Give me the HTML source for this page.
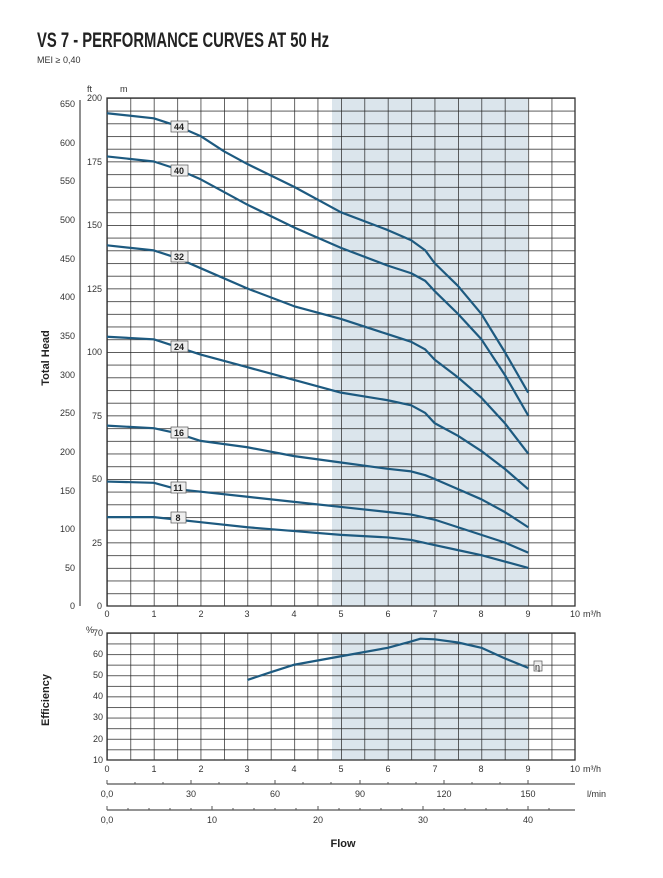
<!DOCTYPE html>
<html><head><meta charset="utf-8"><style>
body{margin:0;background:#fff;}
svg{display:block;font-family:"Liberation Sans",sans-serif;}
.t{font-size:9px;fill:#333;}
</style></head><body>
<svg width="663" height="878" viewBox="0 0 663 878">
<defs>
<pattern id="g1" x="107" y="98" width="23.4" height="12.7" patternUnits="userSpaceOnUse">
<path d="M0 0V12.7M0 0H23.4" stroke="#222" stroke-width="1.4" fill="none"/></pattern>
<pattern id="g2" x="107" y="633" width="23.4" height="10.585" patternUnits="userSpaceOnUse">
<path d="M0 0V10.585M0 0H23.4" stroke="#222" stroke-width="1.4" fill="none"/></pattern>
</defs>
<text x="37" y="47" font-size="21" font-weight="bold" fill="#222" textLength="292" lengthAdjust="spacingAndGlyphs">VS 7 - PERFORMANCE CURVES AT 50 Hz</text>
<text x="37" y="63" font-size="9" fill="#333">MEI ≥ 0,40</text>

<rect x="332" y="98" width="196" height="508" fill="#dbe5ec"/>
<rect x="107" y="98" width="468" height="508" fill="url(#g1)"/>
<rect x="107" y="98" width="468" height="508" fill="none" stroke="#333" stroke-width="1.3"/>
<text class="t" x="87" y="92">ft</text><text class="t" x="120" y="92">m</text>
<g class="t" text-anchor="end">
<text x="102" y="101">200</text><text x="102" y="165">175</text><text x="102" y="228">150</text><text x="102" y="292">125</text><text x="102" y="355">100</text><text x="102" y="419">75</text><text x="102" y="482">50</text><text x="102" y="546">25</text><text x="102" y="609">0</text>
</g>
<line x1="80" y1="100" x2="80" y2="606" stroke="#555" stroke-width="1.3"/>
<g class="t" text-anchor="end">
<text x="75" y="107">650</text><text x="75" y="146">600</text><text x="75" y="184">550</text><text x="75" y="223">500</text><text x="75" y="262">450</text><text x="75" y="300">400</text><text x="75" y="339">350</text><text x="75" y="378">300</text><text x="75" y="416">250</text><text x="75" y="455">200</text><text x="75" y="494">150</text><text x="75" y="532">100</text><text x="75" y="571">50</text><text x="75" y="609">0</text>
</g>
<text x="49" y="358" font-size="11" font-weight="bold" fill="#222" transform="rotate(-90 49 358)" text-anchor="middle">Total Head</text>
<g class="t" text-anchor="middle">
<text x="107" y="617">0</text><text x="154" y="617">1</text><text x="201" y="617">2</text><text x="247" y="617">3</text><text x="294" y="617">4</text><text x="341" y="617">5</text><text x="388" y="617">6</text><text x="435" y="617">7</text><text x="481" y="617">8</text><text x="528" y="617">9</text><text x="575" y="617">10</text>
</g>
<text class="t" x="583" y="617">m³/h</text>

<g transform="translate(107,606) scale(46.8,-2.54)" fill="none" stroke="#1d5a80" stroke-width="2.2" stroke-linejoin="round">
<polyline vector-effect="non-scaling-stroke" points="0,194 1,192 1.5,189 2,185 2.5,179 3,174 4,165 5,155 6,148 6.5,144 6.8,140 7,135 7.5,126 8,115 8.5,100 9,84"/>
<polyline vector-effect="non-scaling-stroke" points="0,177 1,175 1.5,172 2,168 3,158 4,149 5,141 6,134 6.5,131 6.8,128 7,124 7.5,115 8,105 8.5,91 9,75"/>
<polyline vector-effect="non-scaling-stroke" points="0,142 1,140 1.5,137 2,133 3,125 4,118 5,113 6,107 6.5,104 6.8,101 7,97 7.5,90 8,82 8.5,72 9,60"/>
<polyline vector-effect="non-scaling-stroke" points="0,106 1,105 1.5,102 2,99 3,94 4,89 5,84 6,81 6.5,79 6.8,76 7,72 7.5,67 8,61 8.5,54 9,46"/>
<polyline vector-effect="non-scaling-stroke" points="0,71 1,70 1.5,68 2,65 3,62.5 4,59 5,56.5 6,54 6.5,53 6.8,51.5 7,50 7.5,46 8,42 8.5,37 9,31"/>
<polyline vector-effect="non-scaling-stroke" points="0,49 1,48.5 1.5,46 2,45 3,43 4,41 5,39 6,37 6.5,36 7,34 7.5,31 8,28 8.5,25 9,21"/>
<polyline vector-effect="non-scaling-stroke" points="0,35 1,35 1.5,34 2,33 3,31 4,29.5 5,28 6,27 6.5,26 7,24 7.5,22 8,20 8.5,17.5 9,15"/>
</g>
<g font-size="9" font-weight="bold" fill="#222" text-anchor="middle">
<rect x="171" y="121" width="17" height="11" fill="#eee" stroke="#555" stroke-width="0.7"/><text x="179" y="130">44</text>
<rect x="171" y="165" width="17" height="11" fill="#eee" stroke="#555" stroke-width="0.7"/><text x="179" y="174">40</text>
<rect x="171" y="251" width="17" height="11" fill="#eee" stroke="#555" stroke-width="0.7"/><text x="179" y="260">32</text>
<rect x="171" y="341" width="17" height="11" fill="#eee" stroke="#555" stroke-width="0.7"/><text x="179" y="350">24</text>
<rect x="171" y="427" width="17" height="11" fill="#eee" stroke="#555" stroke-width="0.7"/><text x="179" y="436">16</text>
<rect x="171" y="482" width="15" height="11" fill="#eee" stroke="#555" stroke-width="0.7"/><text x="178" y="491">11</text>
<rect x="171" y="512" width="15" height="11" fill="#eee" stroke="#555" stroke-width="0.7"/><text x="178" y="521">8</text>
</g>

<rect x="332" y="633" width="196" height="127" fill="#dbe5ec"/>
<rect x="107" y="633" width="468" height="127" fill="url(#g2)"/>
<rect x="107" y="633" width="468" height="127" fill="none" stroke="#333" stroke-width="1.3"/>
<text class="t" x="86" y="633" font-size="8">%</text>
<g class="t" text-anchor="end">
<text x="103" y="636">70</text><text x="103" y="657">60</text><text x="103" y="678">50</text><text x="103" y="699">40</text><text x="103" y="720">30</text><text x="103" y="742">20</text><text x="103" y="763">10</text>
</g>
<text x="49" y="700" font-size="11" font-weight="bold" fill="#222" transform="rotate(-90 49 700)" text-anchor="middle">Efficiency</text>
<g class="t" text-anchor="middle">
<text x="107" y="772">0</text><text x="154" y="772">1</text><text x="201" y="772">2</text><text x="247" y="772">3</text><text x="294" y="772">4</text><text x="341" y="772">5</text><text x="388" y="772">6</text><text x="435" y="772">7</text><text x="481" y="772">8</text><text x="528" y="772">9</text><text x="575" y="772">10</text>
</g>
<text class="t" x="583" y="772">m³/h</text>
<g transform="translate(107,760) scale(46.8,-2.117)" fill="none" stroke="#1d5a80" stroke-width="2.2" stroke-linejoin="round">
<polyline vector-effect="non-scaling-stroke" points="3,37.8 3.5,41.5 4,45 5,49 6,53 6.5,56 6.7,57.3 7,57 7.5,55.5 8,53 8.5,48 9,43.5"/>
</g>
<rect x="534" y="661" width="8" height="10" fill="#eee" stroke="#555" stroke-width="0.7"/><text x="535" y="670" font-size="9" fill="#222">η</text>

<line x1="107" y1="784" x2="575" y2="784" stroke="#555" stroke-width="1.3"/>
<g stroke="#555" stroke-width="1">
<line x1="107" y1="780" x2="107" y2="784"/><line x1="135" y1="782" x2="135" y2="784"/><line x1="163" y1="782" x2="163" y2="784"/><line x1="191" y1="780" x2="191" y2="784"/><line x1="219" y1="782" x2="219" y2="784"/><line x1="247" y1="782" x2="247" y2="784"/><line x1="275" y1="780" x2="275" y2="784"/><line x1="303" y1="782" x2="303" y2="784"/><line x1="331" y1="782" x2="331" y2="784"/><line x1="360" y1="780" x2="360" y2="784"/><line x1="388" y1="782" x2="388" y2="784"/><line x1="416" y1="782" x2="416" y2="784"/><line x1="444" y1="780" x2="444" y2="784"/><line x1="472" y1="782" x2="472" y2="784"/><line x1="500" y1="782" x2="500" y2="784"/><line x1="528" y1="780" x2="528" y2="784"/>
</g>
<g class="t" text-anchor="middle">
<text x="107" y="797">0,0</text><text x="191" y="797">30</text><text x="275" y="797">60</text><text x="360" y="797">90</text><text x="444" y="797">120</text><text x="528" y="797">150</text>
</g>
<text class="t" x="587" y="797">l/min</text>
<line x1="107" y1="810" x2="575" y2="810" stroke="#555" stroke-width="1.3"/>
<g stroke="#555" stroke-width="1">
<line x1="107" y1="806" x2="107" y2="810"/><line x1="128" y1="808" x2="128" y2="810"/><line x1="149" y1="808" x2="149" y2="810"/><line x1="170" y1="808" x2="170" y2="810"/><line x1="191" y1="808" x2="191" y2="810"/><line x1="212" y1="806" x2="212" y2="810"/><line x1="233" y1="808" x2="233" y2="810"/><line x1="254" y1="808" x2="254" y2="810"/><line x1="275" y1="808" x2="275" y2="810"/><line x1="296" y1="808" x2="296" y2="810"/><line x1="318" y1="806" x2="318" y2="810"/><line x1="339" y1="808" x2="339" y2="810"/><line x1="360" y1="808" x2="360" y2="810"/><line x1="381" y1="808" x2="381" y2="810"/><line x1="402" y1="808" x2="402" y2="810"/><line x1="423" y1="806" x2="423" y2="810"/><line x1="444" y1="808" x2="444" y2="810"/><line x1="465" y1="808" x2="465" y2="810"/><line x1="486" y1="808" x2="486" y2="810"/><line x1="507" y1="808" x2="507" y2="810"/><line x1="528" y1="806" x2="528" y2="810"/><line x1="549" y1="808" x2="549" y2="810"/>
</g>
<g class="t" text-anchor="middle">
<text x="107" y="823">0,0</text><text x="212" y="823">10</text><text x="318" y="823">20</text><text x="423" y="823">30</text><text x="528" y="823">40</text>
</g>
<text x="343" y="847" font-size="11" font-weight="bold" fill="#222" text-anchor="middle">Flow</text>
</svg>
</body></html>
